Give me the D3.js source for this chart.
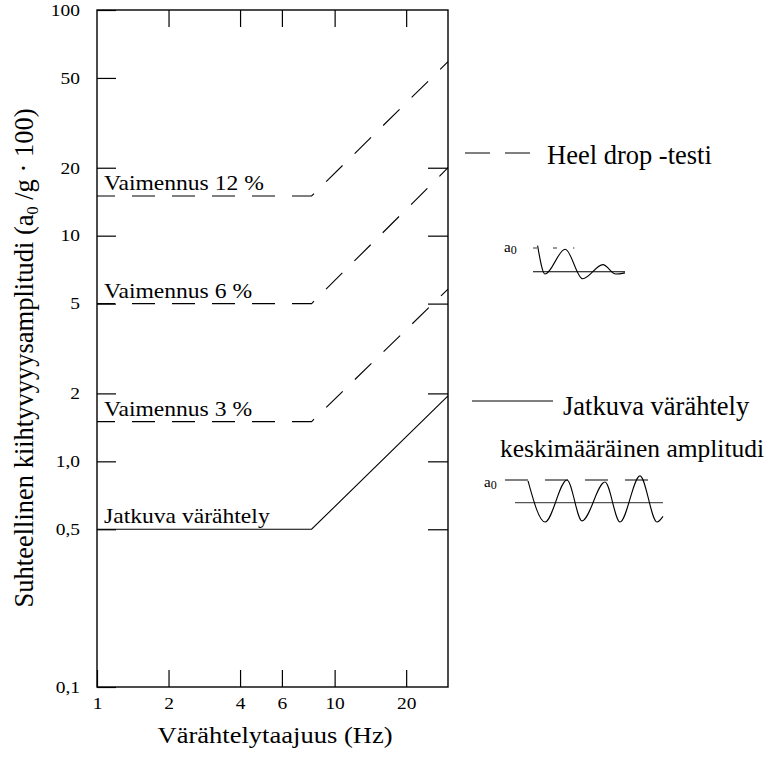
<!DOCTYPE html>
<html>
<head>
<meta charset="utf-8">
<script src="https://cdn.jsdelivr.net/npm/d3@7"></script>
<style>
  body { margin: 0; background: #fff; }
  text { font-family: "Liberation Serif", "Times New Roman", serif; fill: #000; }
</style>
</head>
<body>
<div id="chart"></div>
<script>

// Frequencies (Hz) where the curves are defined: start, knee, right edge
const freqs = [1, 8, 30];

// Curves (a0/g * 100)
const damp12 = [15, 15, 59];
const damp6 = [5, 5, 20];
const damp3 = [1.5, 1.5, 5.8];
const continuous = [0.5, 0.5, 1.95];

const seriesNames = ["Vaimennus 12 %", "Vaimennus 6 %", "Vaimennus 3 %", "Jatkuva värähtely"];

// Axis ticks
const xTicks = [1, 2, 4, 6, 10, 20];
const xTickLabels = ["1", "2", "4", "6", "10", "20"];
const xTopTicks = [2, 4, 6, 10, 20];
const yTicks = [0.1, 0.5, 1, 2, 5, 10, 20, 50, 100];
const yTickLabels = ["0,1", "0,5", "1,0", "2", "5", "10", "20", "50", "100"];
const yRightTicks = [0.5, 1, 2, 5, 10, 20];

// Little sketch waves in the legend (time, relative amplitude; a0 = 1)
const heelT = [0.5, 1.3, 3.5, 5.4, 7.6, 9.0, 10];
const heelA = [1.1, -0.1, 0.95, -0.3, 0.3, -0.1, -0.05];
const contT = [2.3, 4, 6.2, 7.7, 10, 11.5, 13.5, 15.2, 15.8];
const contA = [0.96, -0.85, 1.0, -0.8, 0.91, -0.85, 1.18, -0.85, -0.6];

// Set dimensions and margins
const width = 780;
const height = 758;
const margin = {left: 97, right: 332, top: 10, bottom: 71};
const sx = 1.18; // text in the plot is drawn a bit wide

const svg = d3.select("#chart")
  .append("svg")
  .attr("width", width)
  .attr("height", height);

// log scales both ways
const x = d3.scaleLog()
  .domain([1, 30])
  .range([margin.left, width - margin.right]);

const y = d3.scaleLog()
  .domain([0.1, 100])
  .range([height - margin.bottom, margin.top]);

/*
  Axes (ticks point inwards)
*/

const fixAxis = g => {
  g.attr("font-size", null).attr("font-family", null);
  g.select(".domain").remove();
  g.selectAll(".tick line").attr("stroke-width", 1.2);
};

// bottom
svg.append("g")
  .attr("transform", `translate(0,${height - margin.bottom})`)
  .call(d3.axisBottom(x)
    .tickValues(xTicks)
    .tickFormat(d => xTickLabels[xTicks.indexOf(d)])
    .tickSize(-17)
    .tickSizeOuter(0)
    .tickPadding(10))
  .call(fixAxis)
  .selectAll("text")
    .attr("font-size", 16.5)
    .attr("transform", `scale(${sx},1)`);

// top
svg.append("g")
  .attr("transform", `translate(0,${margin.top})`)
  .call(d3.axisTop(x)
    .tickValues(xTopTicks)
    .tickFormat("")
    .tickSize(-17)
    .tickSizeOuter(0))
  .call(fixAxis);

// left
svg.append("g")
  .attr("transform", `translate(${margin.left},0)`)
  .call(d3.axisLeft(y)
    .tickValues(yTicks)
    .tickFormat(d => yTickLabels[yTicks.indexOf(d)])
    .tickSize(-19)
    .tickSizeOuter(0)
    .tickPadding(17))
  .call(fixAxis)
  .selectAll("text")
    .attr("font-size", 16.5)
    .attr("x", -17 / sx)
    .attr("transform", `scale(${sx},1)`);

// right
svg.append("g")
  .attr("transform", `translate(${width - margin.right},0)`)
  .call(d3.axisRight(y)
    .tickValues(yRightTicks)
    .tickFormat("")
    .tickSize(-20)
    .tickSizeOuter(0))
  .call(fixAxis);

// frame
svg.append("rect")
  .attr("x", margin.left)
  .attr("y", margin.top)
  .attr("width", width - margin.right - margin.left)
  .attr("height", height - margin.bottom - margin.top)
  .attr("fill", "none")
  .attr("stroke", "#000")
  .attr("stroke-width", 1.4);

/*
  Curves
*/

const line = d3.line()
  .x((d, i) => x(freqs[i]))
  .y(d => y(d));

const allSeries = [damp12, damp6, damp3, continuous];

svg.selectAll(".curve")
  .data(allSeries)
  .enter()
  .append("path")
    .attr("class", "curve")
    .attr("d", line)
    .attr("fill", "none")
    .attr("stroke", "#000")
    .attr("stroke-width", 1.1)
    .attr("stroke-dasharray", (d, i) => i < 3 ? "23,17" : null)
    .attr("stroke-dashoffset", 5);

// labels sitting on the flat part of each curve
svg.selectAll(".curve-label")
  .data(allSeries)
  .enter()
  .append("text")
    .attr("class", "curve-label")
    .attr("font-size", 20)
    .attr("transform", d => `translate(${x(1) + 7},${y(d[0]) - 6}) scale(${sx},1)`)
    .text((d, i) => seriesNames[i]);

/*
  Axis titles
*/

svg.append("text")
  .attr("font-size", 22.7)
  .attr("text-anchor", "middle")
  .attr("transform", `translate(275,743) scale(1.17,1)`)
  .text("Värähtelytaajuus (Hz)");

const yTitle = svg.append("text")
  .attr("font-size", 26.5)
  .attr("text-anchor", "middle")
  .attr("transform", `translate(33,358) rotate(-90)`);
yTitle.append("tspan").text("Suhteellinen kiihtyvyyysamplitudi (a");
yTitle.append("tspan").attr("font-size", 16).attr("dy", 5).text("0");
yTitle.append("tspan").attr("dy", -5).text(" /g · 100)");

/*
  Legend
*/

svg.append("line")
  .attr("x1", 465).attr("x2", 530)
  .attr("y1", 153).attr("y2", 153)
  .attr("stroke", "#000")
  .attr("stroke-width", 1.1)
  .attr("stroke-dasharray", "25,15");

svg.append("text")
  .attr("x", 547).attr("y", 164)
  .attr("font-size", 26.5)
  .text("Heel drop -testi");

svg.append("line")
  .attr("x1", 472).attr("x2", 553)
  .attr("y1", 401).attr("y2", 401)
  .attr("stroke", "#000")
  .attr("stroke-width", 1.1);

svg.append("text")
  .attr("x", 563).attr("y", 415)
  .attr("font-size", 26.5)
  .text("Jatkuva värähtely");

svg.append("text")
  .attr("x", 500).attr("y", 457)
  .attr("font-size", 25.5)
  .text("keskimääräinen amplitudi");

// a0 label helper
const a0Label = (xx, yy) => {
  const t = svg.append("text")
    .attr("x", xx).attr("y", yy)
    .attr("font-size", 15);
  t.append("tspan").text("a");
  t.append("tspan").attr("font-size", 12).attr("dy", 2).text("0");
};

// heel drop sketch
const hx = d3.scaleLinear().domain([0, 10]).range([533, 625]);
const hy = d3.scaleLinear().domain([0, 1]).range([271.7, 248]);

svg.append("line")
  .attr("x1", hx(0)).attr("x2", hx(10))
  .attr("y1", hy(0)).attr("y2", hy(0))
  .attr("stroke", "#000").attr("stroke-width", 1.1);

svg.append("line")
  .attr("x1", hx(0)).attr("x2", hx(4.5))
  .attr("y1", hy(1)).attr("y2", hy(1))
  .attr("stroke", "#000").attr("stroke-width", 0.8)
  .attr("stroke-dasharray", "4,16");

svg.append("path")
  .datum(heelT)
  .attr("d", d3.line()
    .x(d => hx(d))
    .y((d, i) => hy(heelA[i]))
    .curve(d3.curveMonotoneX))
  .attr("fill", "none")
  .attr("stroke", "#000")
  .attr("stroke-width", 1.1);

a0Label(504, 252);

// continuous vibration sketch
const cx = d3.scaleLinear().domain([0, 16]).range([505, 665]);
const cy = d3.scaleLinear().domain([0, 1]).range([502.7, 480]);

svg.append("line")
  .attr("x1", cx(1)).attr("x2", cx(15.8))
  .attr("y1", cy(0)).attr("y2", cy(0))
  .attr("stroke", "#555").attr("stroke-width", 1.3);

svg.append("line")
  .attr("x1", cx(0)).attr("x2", cx(14.5))
  .attr("y1", cy(1)).attr("y2", cy(1))
  .attr("stroke", "#000").attr("stroke-width", 1)
  .attr("stroke-dasharray", "23,17");

svg.append("path")
  .datum(contT)
  .attr("d", d3.line()
    .x(d => cx(d))
    .y((d, i) => cy(contA[i]))
    .curve(d3.curveMonotoneX))
  .attr("fill", "none")
  .attr("stroke", "#000")
  .attr("stroke-width", 1.1);

a0Label(484, 487);

</script>
</body>
</html>
